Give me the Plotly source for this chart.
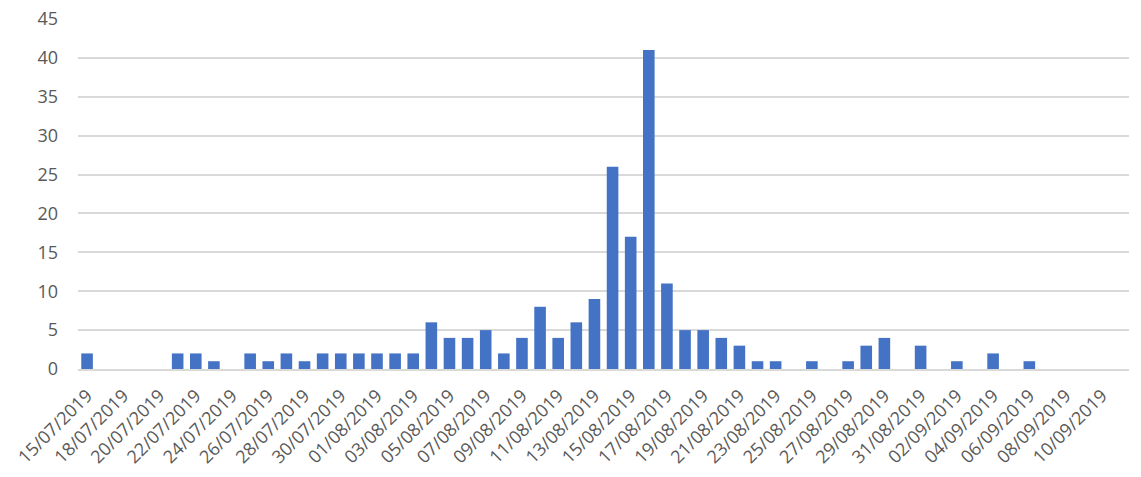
import plotly.graph_objects as go

categories = [
    "15/07/2019", "17/07/2019", "18/07/2019", "19/07/2019", "20/07/2019", "21/07/2019",
    "22/07/2019", "23/07/2019", "24/07/2019", "25/07/2019", "26/07/2019", "27/07/2019",
    "28/07/2019", "29/07/2019", "30/07/2019", "31/07/2019", "01/08/2019", "02/08/2019",
    "03/08/2019", "04/08/2019", "05/08/2019", "06/08/2019", "07/08/2019", "08/08/2019",
    "09/08/2019", "10/08/2019", "11/08/2019", "12/08/2019", "13/08/2019", "14/08/2019",
    "15/08/2019", "16/08/2019", "17/08/2019", "18/08/2019", "19/08/2019", "20/08/2019",
    "21/08/2019", "22/08/2019", "23/08/2019", "24/08/2019", "25/08/2019", "26/08/2019",
    "27/08/2019", "28/08/2019", "29/08/2019", "30/08/2019", "31/08/2019", "01/09/2019",
    "02/09/2019", "03/09/2019", "04/09/2019", "05/09/2019", "06/09/2019", "07/09/2019",
    "08/09/2019", "09/09/2019", "10/09/2019", "11/09/2019",
]

values = [
    2, 0, 0, 0, 0, 2,
    2, 1, 0, 2, 1, 2,
    1, 2, 2, 2, 2, 2,
    2, 6, 4, 4, 5, 2,
    4, 8, 4, 6, 9, 26,
    17, 41, 11, 5, 5, 4,
    3, 1, 1, 0, 1, 0,
    1, 3, 4, 0, 3, 0,
    1, 0, 2, 0, 1, 0,
    0, 0, 0, 0,
]

tick_labels = categories[::2]

FONT = "Open Sans"
TEXT = "#595959"

fig = go.Figure(
    go.Bar(
        x=categories,
        y=values,
        marker=dict(color="#4472C4", line=dict(width=0)),
    )
)

fig.update_layout(
    width=1141,
    height=477,
    margin=dict(l=78, r=12, t=19, b=108),
    paper_bgcolor="white",
    plot_bgcolor="white",
    bargap=0.36,
    showlegend=False,
    font=dict(family=FONT, color=TEXT, size=18),
)

fig.update_xaxes(
    type="category",
    range=[-0.5, len(categories) - 0.5],
    tickmode="array",
    tickvals=tick_labels,
    ticktext=tick_labels,
    tickangle=-45,
    tickfont=dict(family=FONT, color=TEXT, size=18),
    showgrid=False,
    showline=True,
    linecolor="#D9D9D9",
    linewidth=2,
    ticks="",
    ticklabelstandoff=7,
    ticklabeloverflow="allow",
    automargin=False,
)

fig.update_yaxes(
    range=[0, 45],
    dtick=5,
    tick0=0,
    showgrid=True,
    gridcolor="#D9D9D9",
    gridwidth=2,
    zeroline=False,
    showline=False,
    ticks="",
    tickfont=dict(family=FONT, color=TEXT, size=18),
    ticklabelstandoff=19,
    ticklabeloverflow="allow",
    automargin=False,
)

fig.write_html(
    "out.html",
    config={"displayModeBar": False},
    post_script="document.body.style.margin='0';document.body.style.overflow='hidden';",
)
